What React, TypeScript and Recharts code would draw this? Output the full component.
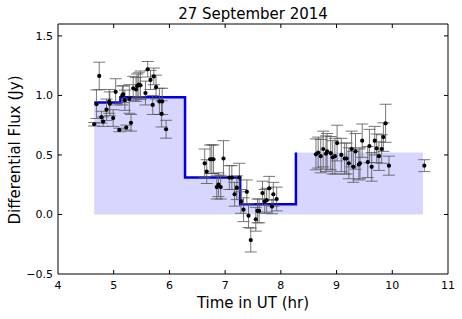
import React from 'react';
import { ComposedChart, XAxis, YAxis, Area, Line, Scatter, ErrorBar, ReferenceArea } from 'recharts';

const times = [
  4.65, 4.69, 4.74, 4.78, 4.81, 4.87, 4.92, 4.93, 4.99, 5.035, 5.1, 5.155, 5.17, 5.2, 5.225, 5.28,
  5.31, 5.35, 5.4, 5.42, 5.45, 5.48, 5.57, 5.61, 5.66, 5.7, 5.72, 5.76, 5.82, 5.86, 5.87, 5.94,
  6.633, 6.67, 6.73, 6.76, 6.79, 6.97, 6.85, 6.88, 6.92, 7.075, 7.12, 7.17, 7.21, 7.255, 7.285,
  7.33, 7.39, 7.42, 7.46, 7.55, 7.58, 7.61, 7.67, 7.71, 7.745, 7.79, 7.84, 7.865, 7.925,
  8.63, 8.67, 8.715, 8.76, 8.81, 8.83, 8.895, 8.93, 8.97, 9.01, 9.085, 9.145, 9.18, 9.22, 9.27,
  9.3, 9.34, 9.4, 9.42, 9.46, 9.56, 9.59, 9.63, 9.685, 9.72, 9.76, 9.81, 9.84, 9.88, 9.94, 10.575,
];
const fluxes = [
  0.758, 0.926, 1.164, 0.817, 0.78, 0.88, 0.95, 0.93, 0.81, 1.03, 0.71, 1.0, 1.01, 0.96, 0.73, 0.97,
  0.77, 1.06, 1.05, 1.08, 1.09, 1.085, 1.02, 1.22, 1.13, 0.92, 1.16, 1.07, 0.95, 0.845, 0.95, 0.716,
  0.43, 0.36, 0.464, 0.464, 0.464, 0.47, 0.23, 0.25, 0.23, 0.31, 0.31, 0.17, 0.225, 0.31, 0.11,
  0.04, 0.19, -0.01, -0.215, -0.04, 0.03, 0.03, 0.18, 0.11, 0.12, 0.22, 0.066, 0.17, 0.13,
  0.505, 0.52, 0.49, 0.55, 0.51, 0.53, 0.515, 0.48, 0.49, 0.6, 0.5, 0.47, 0.47, 0.43, 0.55,
  0.4, 0.53, 0.42, 0.43, 0.62, 0.44, 0.575, 0.4, 0.62, 0.556, 0.49, 0.55, 0.65, 0.766, 0.41, 0.41,
];
const errors = [
  0.015, 0.12, 0.115, 0.05, 0.04, 0.09, 0.1, 0.1, 0.07, 0.11, 0.015, 0.08, 0.07, 0.085, 0.02, 0.12,
  0.07, 0.1, 0.1, 0.1, 0.1, 0.12, 0.1, 0.065, 0.08, 0.08, 0.07, 0.1, 0.11, 0.11, 0.11, 0.075,
  0.12, 0.1, 0.12, 0.12, 0.12, 0.15, 0.1, 0.1, 0.1, 0.1, 0.1, 0.1, 0.1, 0.12, 0.1,
  0.1, 0.1, 0.1, 0.1, 0.1, 0.1, 0.1, 0.1, 0.1, 0.1, 0.1, 0.06, 0.1, 0.1,
  0.13, 0.13, 0.14, 0.15, 0.15, 0.15, 0.14, 0.14, 0.15, 0.15, 0.14, 0.13, 0.13, 0.13, 0.15,
  0.13, 0.15, 0.13, 0.13, 0.14, 0.13, 0.14, 0.12, 0.12, 0.12, 0.12, 0.12, 0.12, 0.16, 0.08, 0.05,
];

const stepTimes = [4.65, 5.12, 6.28, 7.27, 8.27];
const stepFlux = [0.94, 0.985, 0.31, 0.086, 0.52];
const fillEnd = 10.55;

const xTicks = [4, 5, 6, 7, 8, 9, 10, 11];
const yTicks = [-0.5, 0, 0.5, 1, 1.5];
const xDomain = [4, 11];
const yDomain = [-0.5, 1.6];

const points = times.map((t, i) => ({ x: t, y: fluxes[i], err: errors[i] }));
const stepData = stepTimes.map((t, i) => ({ x: t, s: stepFlux[i] }));
const fillData = [
  ...stepTimes.map((t, i) => ({ x: t, f: stepFlux[i] })),
  { x: fillEnd, f: stepFlux[stepFlux.length - 1] },
];

const FONT = '"DejaVu Sans", sans-serif';
const fmtY = (v: number) => (v < 0 ? '\u2212' + Math.abs(v).toFixed(1) : v.toFixed(1));

const PLOT_W = 390;
const PLOT_H = 250;
const TICK_LEN = 4;
const X_MARGIN = 7;
const Y_MARGIN = 5;

const Dot = (props: any) => {
  const { cx, cy } = props;
  if (cx == null || cy == null) return null;
  return <circle cx={cx} cy={cy} r={2.1} fill="#000" />;
};

const XTick = (props: any) => {
  const { x, y, payload } = props;
  const axisY = y - X_MARGIN;
  const first = payload.value === xTicks[0] || payload.value === xTicks[xTicks.length - 1];
  return (
    <g>
      {!first && (
        <>
          <line x1={x} y1={axisY} x2={x} y2={axisY - TICK_LEN} stroke="#000" strokeWidth={1} />
          <line x1={x} y1={axisY - PLOT_H} x2={x} y2={axisY - PLOT_H + TICK_LEN} stroke="#000" strokeWidth={1} />
        </>
      )}
      <text x={x} y={axisY + 15} textAnchor="middle" fontFamily={FONT} fontSize={11} fill="#000">
        {String(payload.value)}
      </text>
    </g>
  );
};

const YTick = (props: any) => {
  const { x, y, payload } = props;
  const axisX = x + Y_MARGIN;
  const edge = payload.value === yTicks[0];
  return (
    <g>
      {!edge && (
        <>
          <line x1={axisX} y1={y} x2={axisX + TICK_LEN} y2={y} stroke="#000" strokeWidth={1} />
          <line x1={axisX + PLOT_W} y1={y} x2={axisX + PLOT_W - TICK_LEN} y2={y} stroke="#000" strokeWidth={1} />
        </>
      )}
      <text x={axisX - Y_MARGIN} y={y + 4} textAnchor="end" fontFamily={FONT} fontSize={11} fill="#000">
        {fmtY(payload.value)}
      </text>
    </g>
  );
};

export default function App() {
  return (
    <div style={{ position: 'absolute', left: 0, top: 0, width: 462, height: 319, background: '#fff' }}>
      <ComposedChart
        width={462}
        height={319}
        margin={{ top: 24, right: 14, bottom: 15, left: 8 }}
      >
        <XAxis
          dataKey="x"
          type="number"
          domain={xDomain}
          ticks={xTicks}
          allowDataOverflow
          height={30}
          tickSize={0}
          tickMargin={X_MARGIN}
          tickLine={false}
          axisLine={false}
          tick={<XTick />}
          interval={0}
        />
        <YAxis
          type="number"
          domain={yDomain}
          ticks={yTicks}
          allowDataOverflow
          width={50}
          tickSize={0}
          tickMargin={Y_MARGIN}
          tickLine={false}
          axisLine={false}
          tick={<YTick />}
          interval={0}
        />
        <Area
          data={fillData}
          dataKey="f"
          type="stepAfter"
          baseValue={0}
          stroke="none"
          fill="#0000ff"
          fillOpacity={0.16}
          isAnimationActive={false}
        />
        <Line
          data={stepData}
          dataKey="s"
          type="stepAfter"
          stroke="#0000dd"
          strokeWidth={2.5}
          dot={false}
          isAnimationActive={false}
        />
        <Scatter data={points} dataKey="y" shape={<Dot />} isAnimationActive={false}>
          <ErrorBar dataKey="err" direction="y" width={6} stroke="#555" strokeWidth={0.8} />
        </Scatter>
        <ReferenceArea
          x1={xDomain[0]}
          x2={xDomain[1]}
          y1={yDomain[0]}
          y2={yDomain[1]}
          fill="none"
          fillOpacity={0}
          stroke="#000"
          strokeWidth={1}
          ifOverflow="visible"
        />
      </ComposedChart>
      <svg
        width={462}
        height={319}
        style={{ position: 'absolute', left: 0, top: 0, pointerEvents: 'none' }}
      >
        <text x={253} y={19} textAnchor="middle" fontFamily={FONT} fontSize={15} fill="#000">
          27 September 2014
        </text>
        <text x={253} y={308} textAnchor="middle" fontFamily={FONT} fontSize={15} fill="#000">
          Time in UT (hr)
        </text>
        <text
          x={0}
          y={0}
          transform="translate(20,150) rotate(-90)"
          textAnchor="middle"
          fontFamily={FONT}
          fontSize={15}
          fill="#000"
        >
          Differential Flux (Jy)
        </text>
      </svg>
    </div>
  );
}
